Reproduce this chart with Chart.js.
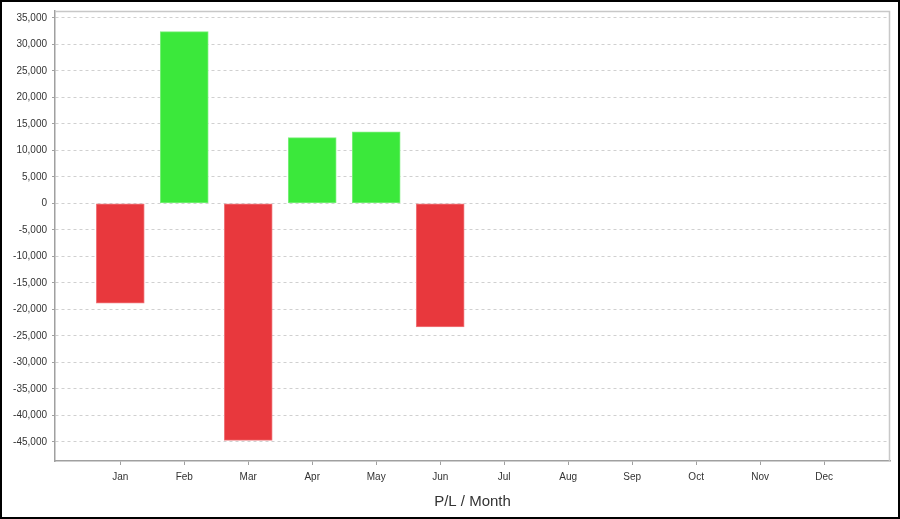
<!DOCTYPE html>
<html>
<head>
<meta charset="utf-8">
<script src="https://cdn.jsdelivr.net/npm/chart.js@4/dist/chart.umd.min.js"></script>
<style>
  html, body { margin: 0; padding: 0; background: #fff; }
  #wrap { position: relative; width: 900px; height: 519px; }
  #c { position: absolute; left: 0; top: 0; }
  #frame { position: absolute; left: 0; top: 0; width: 900px; height: 519px; box-sizing: border-box; border: 2px solid #000; pointer-events: none; }
</style>
</head>
<body>
<div id="wrap">
  <canvas id="c" width="900" height="519"></canvas>
  <div id="frame"></div>
</div>
<script>
// ---- Data ----
const months = ['Jan', 'Feb', 'Mar', 'Apr', 'May', 'Jun', 'Jul', 'Aug', 'Sep', 'Oct', 'Nov', 'Dec'];
const plValues = [-18800, 32400, -44700, 12400, 13500, -23300];
const yTickValues = [35000, 30000, 25000, 20000, 15000, 10000, 5000, 0, -5000, -10000, -15000, -20000, -25000, -30000, -35000, -40000, -45000];
const axisTitle = 'P/L / Month';
const yMin = -48600;
const yMax = 36300;

const positiveFill = '#3be83b';
const positiveEdge = '#7df07d';
const negativeFill = '#e8383d';
const negativeEdge = '#f07a7e';

const points = plValues.map((v, i) => ({ x: i + 1, y: v }));

const plotBorder = {
  id: 'plotBorder',
  afterDatasetsDraw(chart) {
    const a = chart.chartArea;
    const ctx = chart.ctx;
    ctx.save();
    ctx.strokeStyle = '#c8c8c8';
    ctx.lineWidth = 1.5;
    ctx.beginPath();
    ctx.moveTo(a.left, a.top + 0.5);
    ctx.lineTo(a.right - 0.5, a.top + 0.5);
    ctx.lineTo(a.right - 0.5, a.bottom);
    ctx.stroke();
    ctx.restore();
  }
};

new Chart(document.getElementById('c'), {
  type: 'bar',
  data: {
    datasets: [{
      data: points,
      backgroundColor: plValues.map(v => v >= 0 ? positiveFill : negativeFill),
      borderColor: plValues.map(v => v >= 0 ? positiveEdge : negativeEdge),
      borderWidth: 1,
      borderSkipped: false,
      barThickness: 48
    }]
  },
  plugins: [plotBorder],
  options: {
    responsive: false,
    animation: false,
    devicePixelRatio: 1,
    layout: { padding: { left: 0, top: 8, right: 10, bottom: 0 } },
    plugins: { legend: { display: false }, tooltip: { enabled: false } },
    scales: {
      x: {
        type: 'linear',
        offset: false,
        min: -0.02,
        max: 13.03,
        afterBuildTicks(scale) {
          scale.ticks = months.map((m, i) => ({ value: i + 1 }));
        },
        afterFit(scale) { scale.height = 58; },
        grid: {
          offset: false,
          drawOnChartArea: false,
          drawTicks: true,
          tickLength: 4,
          tickColor: '#a0a0a0',
          tickWidth: 1
        },
        border: { display: true, color: '#a0a0a0', width: 1.5 },
        ticks: {
          autoSkip: false,
          maxRotation: 0,
          padding: 6,
          color: '#333',
          font: { family: 'Liberation Sans, Arial, sans-serif', size: 10 },
          callback: (v) => months[v - 1] || ''
        },
        title: {
          display: true,
          text: axisTitle,
          color: '#333',
          padding: { top: 0, bottom: 8 },
          font: { family: 'Liberation Sans, Arial, sans-serif', size: 15 }
        }
      },
      y: {
        min: yMin,
        max: yMax,
        afterBuildTicks(scale) {
          scale.ticks = yTickValues.map(v => ({ value: v }));
        },
        afterFit(scale) { scale.width = 55; },
        grid: {
          color: '#d0d0d0',
          lineWidth: 1,
          tickLength: 3,
          tickColor: '#a0a0a0',
          tickBorderDash: [],
          drawTicks: true
        },
        border: { display: true, color: '#a0a0a0', width: 1.5, dash: [3, 3] },
        ticks: {
          autoSkip: false,
          padding: 5,
          color: '#333',
          font: { family: 'Liberation Sans, Arial, sans-serif', size: 10 },
          callback: (v) => v.toLocaleString('en-US')
        }
      }
    }
  }
});
</script>
</body>
</html>
